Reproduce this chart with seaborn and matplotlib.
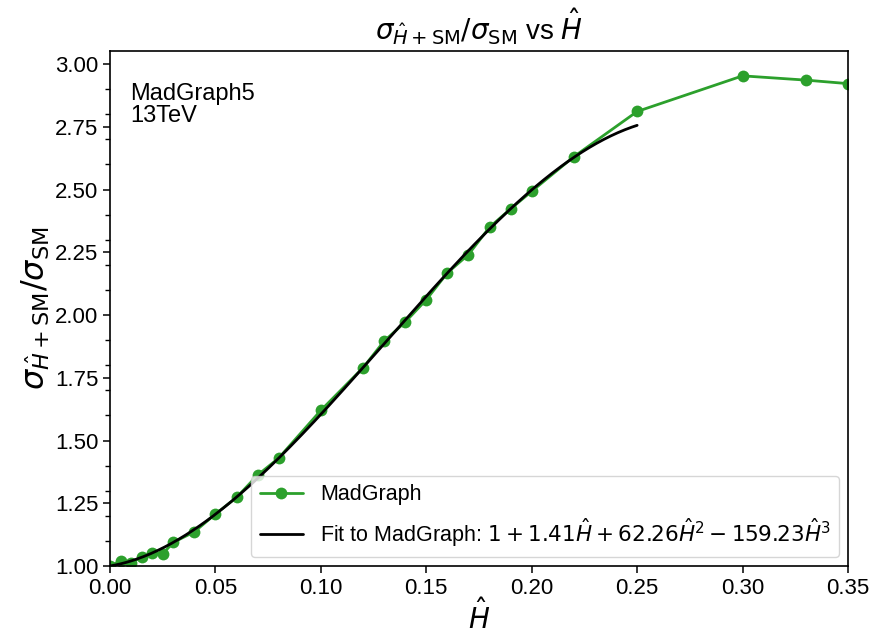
import numpy as np
import pandas as pd
import matplotlib
matplotlib.use("Agg")
import matplotlib.pyplot as plt
from matplotlib.ticker import MultipleLocator
import seaborn as sns

# Data
h_hat = [0.0, 0.005, 0.01, 0.015, 0.02, 0.025, 0.03, 0.04, 0.05, 0.06, 0.07, 0.08,
         0.10, 0.12, 0.13, 0.14, 0.15, 0.16, 0.17, 0.18, 0.19, 0.20, 0.22, 0.25,
         0.30, 0.33, 0.35]
ratio = [1.00, 1.02, 1.012, 1.037, 1.05, 1.048, 1.094, 1.136, 1.207, 1.273, 1.362, 1.43,
         1.62, 1.79, 1.896, 1.972, 2.061, 2.168, 2.241, 2.350, 2.423, 2.493, 2.631, 2.811,
         2.953, 2.936, 2.922]
fit_coeffs = [1.0, 1.41, 62.26, -159.23]
fit_range = [0.0, 0.25]
x_ticks = [0.00, 0.05, 0.10, 0.15, 0.20, 0.25, 0.30, 0.35]
y_ticks = [1.00, 1.25, 1.50, 1.75, 2.00, 2.25, 2.50, 2.75, 3.00]

sns.set_style("ticks")
plt.rcParams['font.family'] = ['Liberation Sans', 'DejaVu Sans']
plt.rcParams['xtick.direction'] = 'out'
plt.rcParams['ytick.direction'] = 'out'
plt.rcParams['axes.edgecolor'] = 'black'
plt.rcParams['xtick.color'] = 'black'
plt.rcParams['ytick.color'] = 'black'
plt.rcParams['text.color'] = 'black'
plt.rcParams['axes.labelcolor'] = 'black'

fig = plt.figure(figsize=(8.74, 6.4), dpi=100)
ax = fig.add_axes([110/874, 1 - 566/640, 738/874, 515/640])

df = pd.DataFrame({"h": h_hat, "r": ratio})
sns.lineplot(data=df, x="h", y="r", ax=ax, color="#2ca02c", marker="o",
             markersize=8.5, markeredgecolor="#2ca02c", markeredgewidth=0,
             linewidth=2, label="MadGraph")

xf = np.linspace(fit_range[0], fit_range[1], 300)
yf = sum(c * xf**i for i, c in enumerate(fit_coeffs))
fit_df = pd.DataFrame({"h": xf, "r": yf})
sns.lineplot(data=fit_df, x="h", y="r", ax=ax, color="black", linewidth=2,
             label=r"Fit to MadGraph: $1 + 1.41\hat{H} + 62.26\hat{H}^2 - 159.23\hat{H}^3$")

ax.set_xlim(0, 0.35)
ax.set_ylim(1.0, 3.052)
ax.set_xticks(x_ticks)
ax.set_yticks(y_ticks)
ax.set_xticklabels([f"{t:.2f}" for t in x_ticks])
ax.set_yticklabels([f"{t:.2f}" for t in y_ticks])
ax.yaxis.set_minor_locator(MultipleLocator(0.1))
ax.tick_params(axis='both', which='major', labelsize=16, length=5, width=1.1)
ax.tick_params(axis='y', which='minor', length=3.5, width=1)
for s in ax.spines.values():
    s.set_linewidth(1.2)

ax.set_xlabel(r"$\hat{H}$", fontsize=20, labelpad=0)
ax.set_ylabel(r"$\sigma_{\hat{H}+\mathrm{SM}}/\sigma_{\mathrm{SM}}$", fontsize=23, labelpad=2)
ax.set_title(r"$\sigma_{\hat{H}+\mathrm{SM}}/\sigma_{\mathrm{SM}}$ vs $\hat{H}$", fontsize=20, pad=8)

ax.text(0.027, 0.937, "MadGraph5\n13TeV", transform=ax.transAxes, fontsize=17,
        va="top", ha="left", linespacing=1.0)

ax.legend(loc="lower right", fontsize=15.5, frameon=True, borderaxespad=0.4)

fig.savefig("out.png", dpi=100)
